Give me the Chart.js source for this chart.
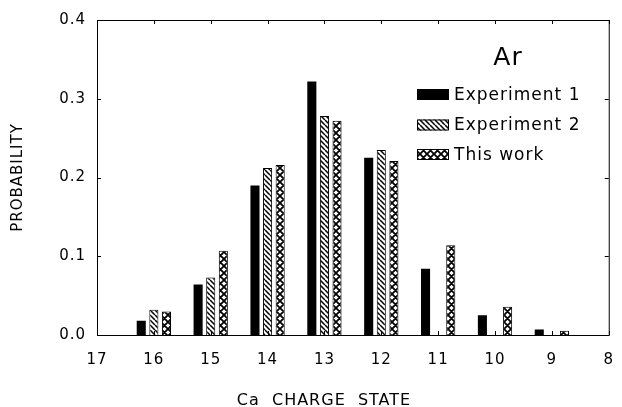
<!DOCTYPE html>
<html>
<head>
<meta charset="utf-8">
<script src="https://cdn.jsdelivr.net/npm/chart.js@4.4.1/dist/chart.umd.min.js"></script>
<style>
  html, body { margin: 0; background: #fff; }
</style>
</head>
<body>
<canvas id="chart" width="622" height="407"></canvas>
<script>
// Ca charge state, axis runs from 17 down to 8
const chargeStates = ['17', '16', '15', '14', '13', '12', '11', '10', '9', '8'];
const experiment1 = [null, 0.018, 0.064, 0.190, 0.322, 0.225, 0.084, 0.025, 0.007, null];
const experiment2 = [null, 0.032, 0.073, 0.212, 0.278, 0.235, null, null, null, null];
const thisWork = [null, 0.030, 0.107, 0.216, 0.272, 0.221, 0.114, 0.036, 0.0055, null];
const seriesNames = ['Experiment 1', 'Experiment 2', 'This work'];
const probTicks = [0, 0.1, 0.2, 0.3, 0.4];

const FONT = '"DejaVu Sans", sans-serif';
const canvas = document.getElementById('chart');
const ctx = canvas.getContext('2d');

function makePattern(size, lineWidth, dirs) {
    const c = document.createElement('canvas');
    c.width = c.height = size;
    const g = c.getContext('2d');
    g.fillStyle = '#fff';
    g.fillRect(0, 0, size, size);
    g.strokeStyle = '#000';
    g.lineWidth = lineWidth;
    g.beginPath();
    for (const k of [-size, 0, size]) {
        if (dirs.includes('\\')) { g.moveTo(k, 0); g.lineTo(k + size, size); }
        if (dirs.includes('/')) { g.moveTo(k + size, 0); g.lineTo(k, size); }
    }
    g.stroke();
    return ctx.createPattern(c, 'repeat');
}

const diagPattern = makePattern(5, 1.5, '\\');
const crossPattern = makePattern(7, 1.8, '\\/');

// frame, inward ticks, legend, "Ar" label and x title
const decorations = {
    id: 'decorations',
    beforeLayout(chart) { chart.ctx.letterSpacing = '1px'; },
    beforeDraw(chart) { chart.ctx.letterSpacing = '1px'; },
    afterDraw(chart) {
        const c = chart.ctx;
        const {left, right, top, bottom} = chart.chartArea;
        const x = chart.scales.x, y = chart.scales.y;
        c.save();
        c.strokeStyle = '#000';
        c.lineWidth = 1;
        c.strokeRect(left + 0.5, top + 0.5, right - left, bottom - top);
        c.beginPath();
        probTicks.forEach(v => {
            const py = Math.round(y.getPixelForValue(v)) + 0.5;
            c.moveTo(left, py); c.lineTo(left + 4, py);
            c.moveTo(right - 4, py); c.lineTo(right, py);
        });
        chargeStates.forEach((_, i) => {
            const px = Math.round(x.getPixelForValue(i)) + 0.5;
            c.moveTo(px, top); c.lineTo(px, top + 4);
            c.moveTo(px, bottom - 4); c.lineTo(px, bottom);
        });
        c.stroke();

        c.fillStyle = '#000';
        c.letterSpacing = '1px';
        c.textBaseline = 'alphabetic';
        c.textAlign = 'center';
        c.font = '25px ' + FONT;
        c.fillText('Ar', 508, 65);

        c.font = '16px ' + FONT;
        c.fillText('Ca  CHARGE  STATE', 324, 405);

        c.textAlign = 'left';
        c.textBaseline = 'middle';
        c.font = '17px ' + FONT;
        const rows = [94.5, 125, 154.5];
        chart.data.datasets.forEach((ds, i) => {
            c.fillStyle = ds.backgroundColor;
            c.fillRect(417, rows[i] - 5.5, 32, 11);
            c.strokeRect(417.5, rows[i] - 5, 31, 10);
            c.fillStyle = '#000';
            c.fillText(ds.label, 454, rows[i] + 1);
        });
        c.restore();
    }
};

new Chart(ctx, {
    type: 'bar',
    data: {
        labels: chargeStates,
        datasets: [
            { label: seriesNames[0], data: experiment1, backgroundColor: '#000', borderColor: '#000', borderWidth: 0 },
            { label: seriesNames[1], data: experiment2, backgroundColor: diagPattern, borderColor: '#000', borderWidth: 1 },
            { label: seriesNames[2], data: thisWork, backgroundColor: crossPattern, borderColor: '#000', borderWidth: 1 }
        ]
    },
    options: {
        responsive: false,
        animation: false,
        categoryPercentage: 0.665,
        barPercentage: 0.72,
        layout: { padding: { top: 17, right: 9, left: 0, bottom: 0 } },
        plugins: {
            legend: { display: false },
            tooltip: { enabled: false }
        },
        scales: {
            x: {
                offset: false,
                grid: { display: false, offset: false },
                border: { display: false },
                ticks: {
                    color: '#000',
                    font: { family: FONT, size: 15 },
                    padding: 8,
                    maxRotation: 0,
                    autoSkip: false
                },
                afterFit: s => { s.height = 72; }
            },
            y: {
                min: 0,
                max: 0.4,
                grid: { display: false, drawTicks: false },
                border: { display: false },
                ticks: {
                    stepSize: 0.1,
                    color: '#000',
                    font: { family: FONT, size: 15 },
                    padding: 11,
                    callback: v => v.toFixed(1)
                },
                title: {
                    display: true,
                    text: 'PROBABILITY',
                    color: '#000',
                    font: { family: FONT, size: 15 },
                    padding: { top: 9, bottom: 0 }
                },
                afterFit: s => { s.width = 97; }
            }
        }
    },
    plugins: [decorations]
});
</script>
</body>
</html>
